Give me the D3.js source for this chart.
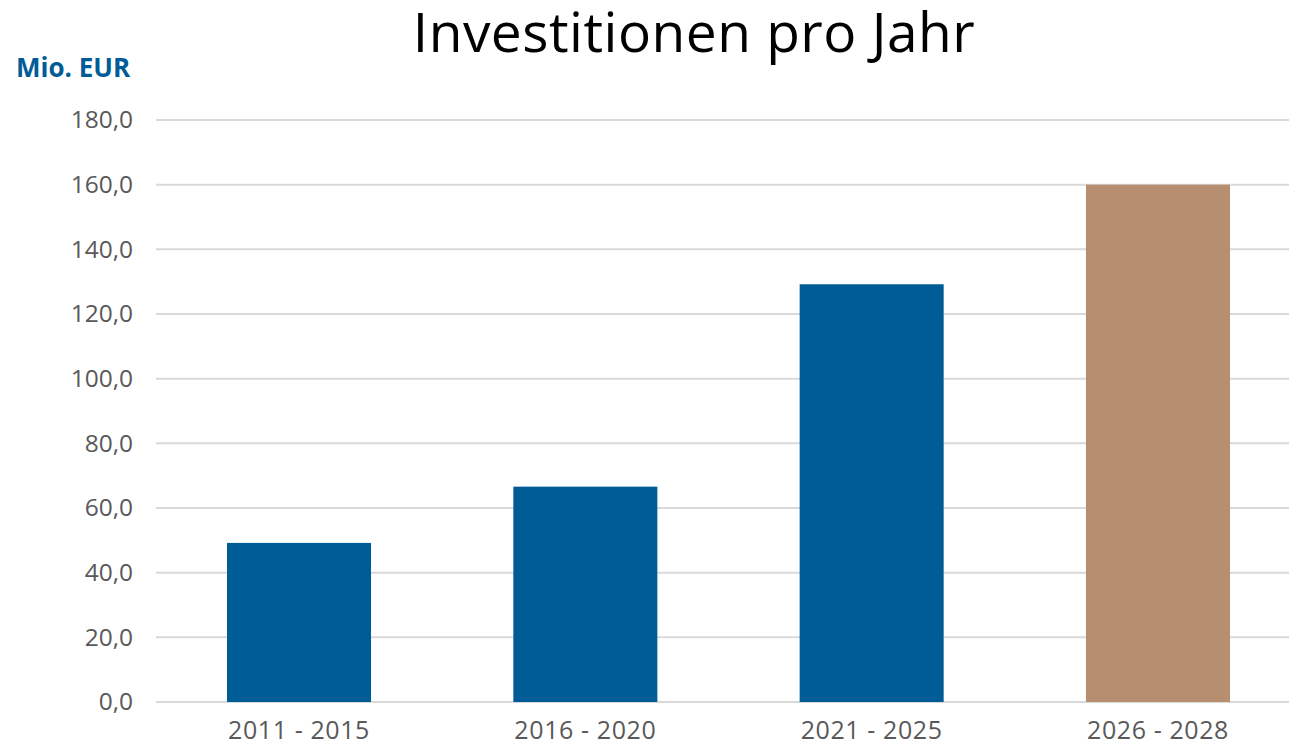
<!DOCTYPE html>
<html>
<head>
<meta charset="utf-8">
<script src="https://cdn.jsdelivr.net/npm/d3@7"></script>
<style>
  body { margin: 0; background: #fff; }
  svg { display: block; }
</style>
</head>
<body>
<svg id="chart" width="1289" height="743"></svg>
<script>
// data
var categories = ['2011 - 2015', '2016 - 2020', '2021 - 2025', '2026 - 2028']
var values = [49.2, 66.6, 129.2, 160.0]
var barColors = ['#005c97', '#005c97', '#005c97', '#b78e70']
var yTicks = [0, 20, 40, 60, 80, 100, 120, 140, 160, 180]

var width = 1289, height = 743
var svg = d3.select('#chart')
var font = "'Open Sans', 'DejaVu Sans', sans-serif"

var x = d3.scaleBand()
  .domain(categories)
  .range([156, 1301])
  .paddingInner(0.497)
  .paddingOuter(0.248)

var y = d3.scaleLinear()
  .domain([0, 180])
  .range([702, 120])

var fmt = function (d) { return d3.format('.1f')(d).replace('.', ',') }

// gridlines
svg.append('g')
  .selectAll('line')
  .data(yTicks)
  .join('line')
  .attr('x1', 156)
  .attr('x2', width)
  .attr('y1', function (d) { return y(d) })
  .attr('y2', function (d) { return y(d) })
  .attr('stroke', '#d9d9d9')
  .attr('stroke-width', 2)

// y axis labels
var yAxis = svg.append('g')
  .attr('transform', 'translate(133,0)')
  .call(d3.axisLeft(y).tickValues(yTicks).tickFormat(fmt).tickSize(0).tickPadding(0))
yAxis.select('.domain').remove()
yAxis.selectAll('text')
  .attr('fill', '#595959')
  .style('font-family', font)
  .style('font-size', '24.5px')

// bars
svg.append('g')
  .selectAll('rect')
  .data(values)
  .join('rect')
  .attr('x', function (d, i) { return x(categories[i]) })
  .attr('width', x.bandwidth())
  .attr('y', function (d) { return y(d) })
  .attr('height', function (d) { return y(0) - y(d) })
  .attr('fill', function (d, i) { return barColors[i] })

// x axis labels
var xAxis = svg.append('g')
  .attr('transform', 'translate(0,' + 702 + ')')
  .call(d3.axisBottom(x).tickSize(0).tickPadding(19))
xAxis.select('.domain').remove()
xAxis.selectAll('text')
  .attr('fill', '#595959')
  .style('font-family', font)
  .style('font-size', '25px')
  .style('letter-spacing', '0.6px')

// unit label
svg.append('text')
  .attr('x', 16)
  .attr('y', 77)
  .attr('fill', '#005c97')
  .style('font-family', font)
  .style('font-size', '26px')
  .style('font-weight', 'bold')
  .text('Mio. EUR')

// title
svg.append('text')
  .attr('x', 694)
  .attr('y', 52)
  .attr('text-anchor', 'middle')
  .attr('fill', '#000')
  .style('font-family', font)
  .style('font-size', '55px')
  .style('letter-spacing', '0.5px')
  .text('Investitionen pro Jahr')
</script>
</body>
</html>
